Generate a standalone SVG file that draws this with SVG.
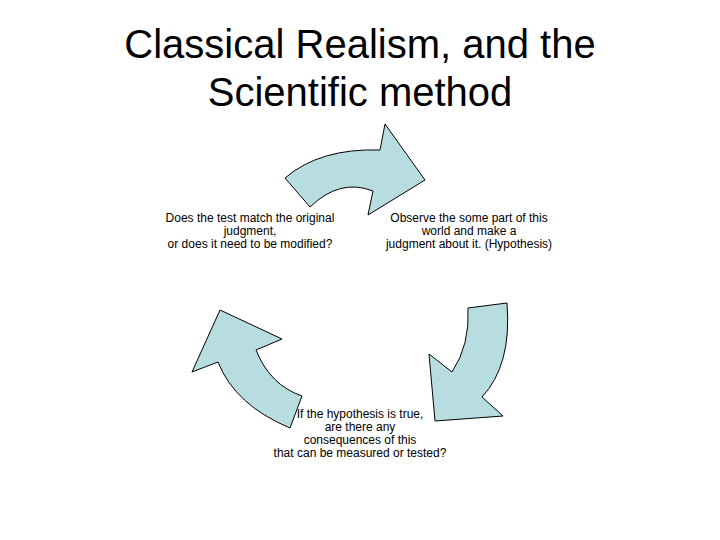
<svg xmlns="http://www.w3.org/2000/svg" width="720" height="540" viewBox="0 0 720 540">
<style>
.a{fill:#b7dde1;stroke:#000;stroke-width:1}
.t{font-family:"Liberation Sans",Arial,sans-serif;font-size:12px;fill:#000;text-anchor:middle}
.h{font-family:"Liberation Sans",Arial,sans-serif;font-size:40px;fill:#000;text-anchor:middle}
</style>
<rect width="720" height="540" fill="#fff"/>
<g id="title"><text class="h" x="360" y="58">Classical Realism, and the</text><text class="h" x="360" y="106">Scientific method</text></g>
<g id="n1"><text class="t" x="250" y="222">Does the test match the original</text><text class="t" x="250" y="235">judgment,</text><text class="t" x="250" y="248">or does it need to be modified?</text></g>
<g id="n2"><text class="t" x="469" y="222">Observe the some part of this</text><text class="t" x="469" y="235">world and make a</text><text class="t" x="469" y="248">judgment about it. (Hypothesis)</text></g>
<g id="n3"><text class="t" x="360" y="418">If the hypothesis is true,</text><text class="t" x="360" y="431">are there any</text><text class="t" x="360" y="444">consequences of this</text><text class="t" x="360" y="457">that can be measured or tested?</text></g>
<g id="connectors">
<path class="a" d="M285,178 Q320,148 380,150 L385,124 L425,180 L368,215 L373,191 Q340,178 310,207 Z"/>
<path class="a" d="M468,308 L507,303 Q512,365 482,397 L503,416 L435,421 L429,354 L452,372 Q470,345 468,308 Z"/>
<path class="a" d="M290,428 Q235,405 218,362 L192,372 L220,310 L282,339 L256,350 Q270,385 302,396 Z"/>
</g>
</svg>
